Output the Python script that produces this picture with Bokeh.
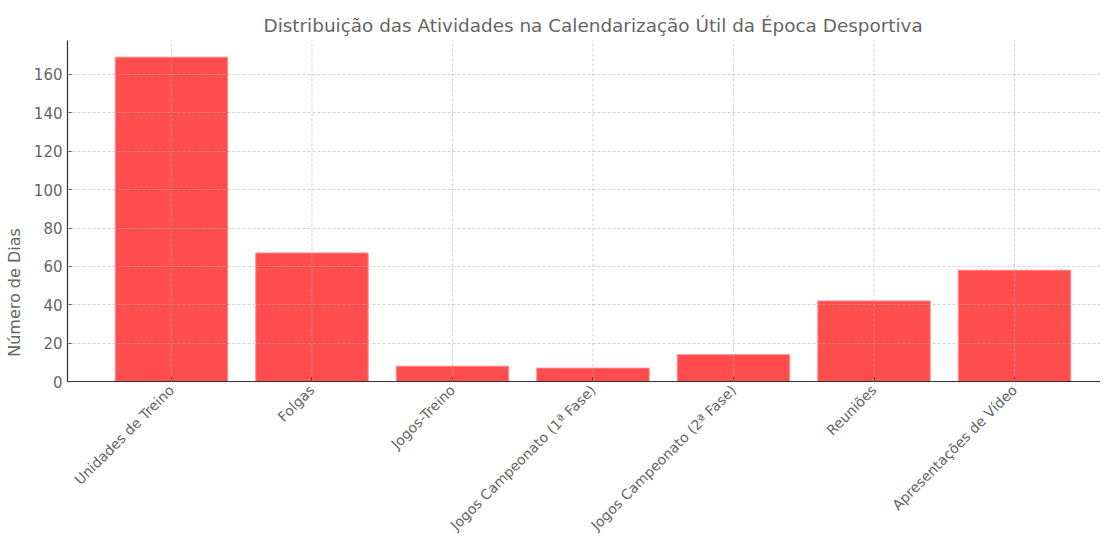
from bokeh.plotting import figure
from bokeh.models import Range1d, FixedTicker
from bokeh.embed import file_html
from bokeh.resources import INLINE
import math

categories = ["Unidades de Treino", "Folgas", "Jogos-Treino", "Jogos Campeonato (1ª Fase)",
              "Jogos Campeonato (2ª Fase)", "Reuniões", "Apresentações de Vídeo"]
values = [169, 67, 8, 7, 14, 42, 58]
y_ticks = [0, 20, 40, 60, 80, 100, 120, 140, 160]

xs = list(range(len(categories)))
FONT = "DejaVu Sans"
GREY = "#666666"
Y_TOP = 177.7
GRID = dict(line_color="#b0b0b0", line_alpha=0.7, line_dash="3 2", line_width=0.8)

p = figure(width=1100, height=544, output_backend="svg", toolbar_location=None,
           x_range=Range1d(-0.74, 6.612), y_range=Range1d(-84.9, Y_TOP),
           min_border_left=67, min_border_right=0, min_border_top=40, min_border_bottom=0,
           title="Distribuição das Atividades na Calendarização Útil da Época Desportiva")
p.outline_line_color = None

p.vbar(x=xs, top=values, width=0.8, fill_color="#FF4D4D", line_color="#FF8A8A", line_width=1)

# vertical grid lines (only over the data area), drawn above the bars like the reference
vg = p.segment(x0=xs, y0=[0] * len(xs), x1=xs, y1=[Y_TOP] * len(xs), **GRID)
vg.level = "overlay"

p.title.text_font = FONT
p.title.text_font_size = "18.4px"
p.title.text_font_style = "normal"
p.title.text_color = GREY
p.title.align = "left"
p.title.offset = 196

p.xaxis.ticker = FixedTicker(ticks=xs)
p.xaxis.major_label_overrides = {i: c for i, c in enumerate(categories)}
p.xaxis.major_label_orientation = math.pi / 4
p.xaxis.fixed_location = 0
p.yaxis.ticker = FixedTicker(ticks=y_ticks)
p.yaxis.bounds = (0, Y_TOP)
p.yaxis.axis_label = "Número de Dias"

for ax in (p.xaxis, p.yaxis):
    ax.axis_line_color = "#333333"
    ax.axis_line_width = 1.2
    ax.major_tick_line_color = "#333333"
    ax.major_tick_in = 4
    ax.major_tick_out = 0
    ax.minor_tick_line_color = None
    ax.major_label_text_font = FONT
    ax.major_label_text_font_size = "15px"
    ax.major_label_text_color = GREY
    ax.axis_label_text_font = FONT
    ax.axis_label_text_font_size = "16px"
    ax.axis_label_text_font_style = "normal"
    ax.axis_label_text_color = GREY

p.xaxis.major_label_text_font_size = "14px"
p.yaxis.major_label_standoff = 5
p.yaxis.axis_label_standoff = 7
p.xaxis.major_label_standoff = 6

p.xgrid.visible = False
p.ygrid.ticker = FixedTicker(ticks=[t for t in y_ticks if t > 0])
p.ygrid.grid_line_color = GRID["line_color"]
p.ygrid.grid_line_alpha = GRID["line_alpha"]
p.ygrid.grid_line_dash = GRID["line_dash"]
p.ygrid.grid_line_width = GRID["line_width"]
p.ygrid.level = "overlay"

open("out.html", "w").write(file_html(p, INLINE))
